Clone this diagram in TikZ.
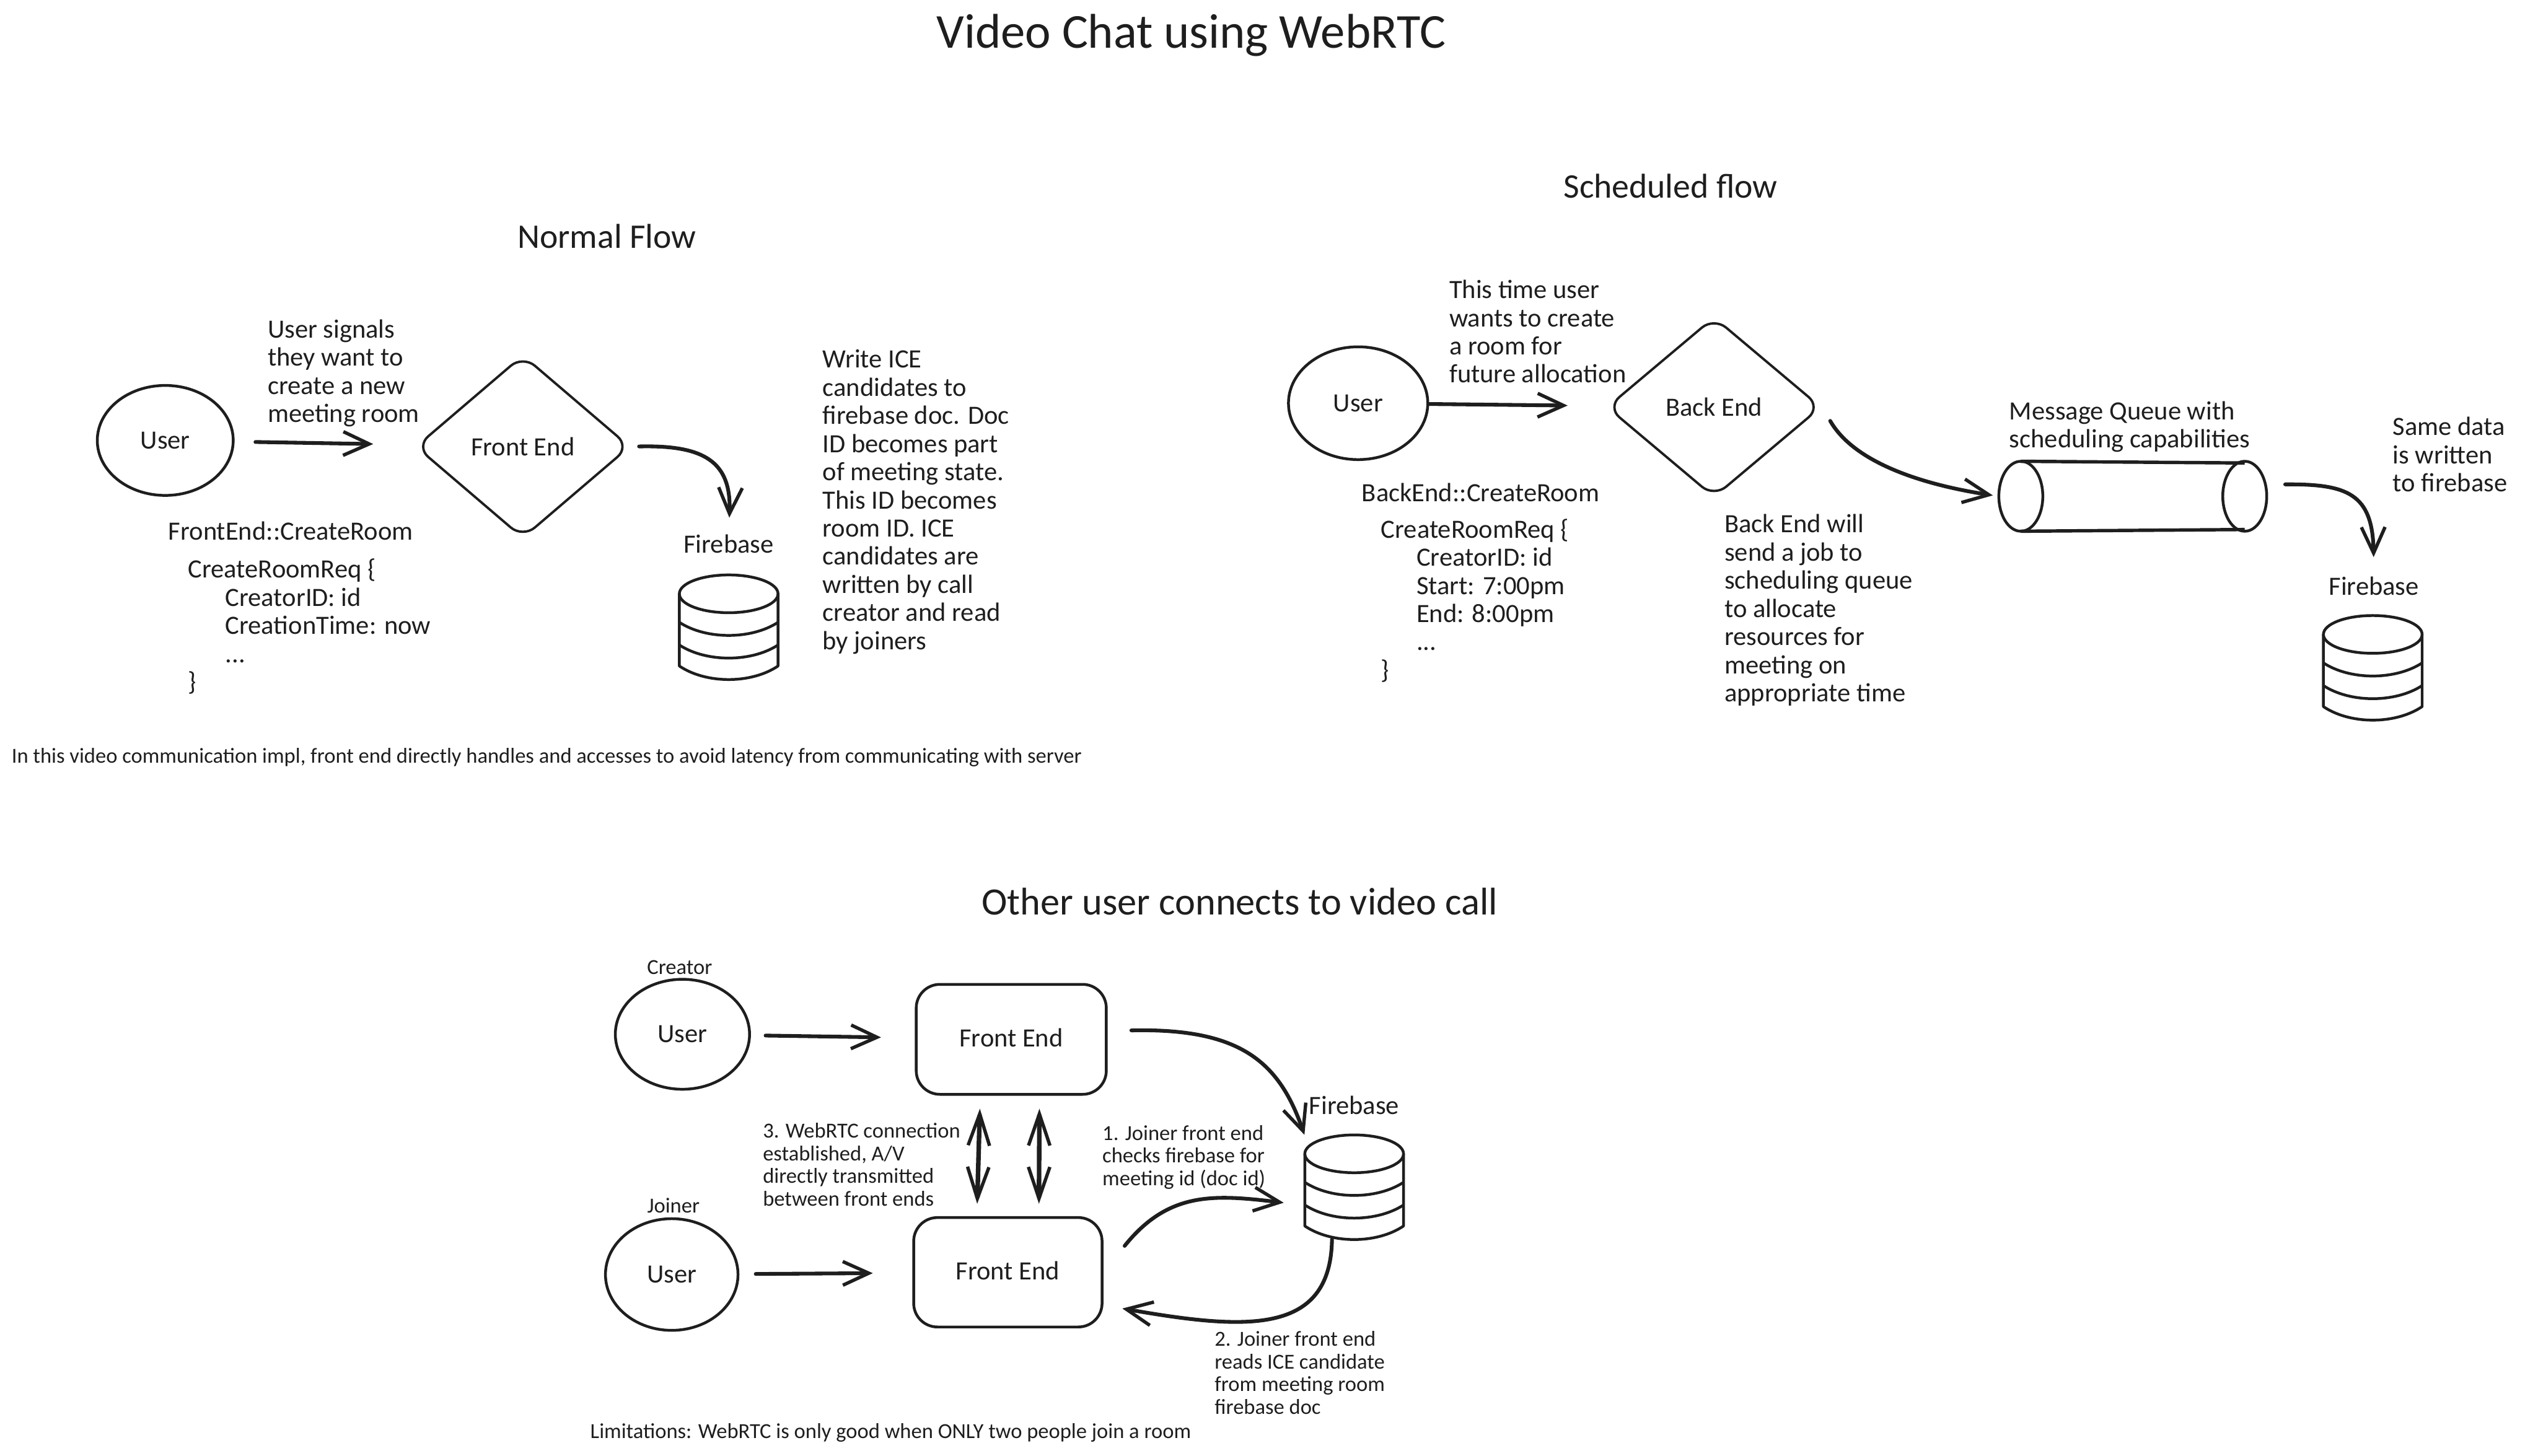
\documentclass[tikz,border=0pt]{standalone}
\usepackage{fontspec}
\setmainfont{Carlito}
\usetikzlibrary{arrows.meta,shapes.geometric,positioning,calc}
\definecolor{inkc}{HTML}{1E1E1E}
\tikzset{
  sketch/.style={draw=inkc, line width=1.4pt, line join=round},
  person/.style={sketch, ellipse, inner sep=0pt},
  decision/.style={sketch, line width=1.2pt, diamond, aspect=1.18, inner sep=0pt, rounded corners=.28cm},
  service/.style={sketch, rectangle, rounded corners=.42cm, inner sep=0pt},
  holder/.style={rectangle, inner sep=0pt},
  flow/.style={draw=inkc, line width=1.9pt, line cap=round, -{Straight Barb[length=4.6mm,width=4.2mm,line width=1.7pt]}},
  bothway/.style={flow, line width=2.3pt, {Straight Barb[length=5.6mm,width=3.8mm,line width=1.7pt]}-{Straight Barb[length=5.6mm,width=3.8mm,line width=1.7pt]}},
  body/.style={text=inkc, font=\fontsize{13.3}{14.2}\selectfont, inner sep=0pt, align=left},
  small/.style={text=inkc, font=\fontsize{10.8}{11.4}\selectfont, inner sep=0pt, align=left},
  heading/.style={text=inkc, font=\fontsize{17.4}{20}\selectfont, inner sep=0pt},
}
\begin{document}
\begin{tikzpicture}
\useasboundingbox (0,0) rectangle (45,25.81);
\fill[white] (0,0) rectangle (45,25.81);
% Headings
\node[text=inkc, font=\fontsize{24.6}{26}\selectfont, inner sep=0pt] (title) at (21.12,25.18) {Video Chat using WebRTC};
\node[heading] (normalhead) at (10.76,21.62) {Normal Flow};
\node[heading] (schedhead) at (29.62,22.51) {Scheduled flow};
\node[heading, font=\fontsize{19.5}{22}\selectfont] (otherhead) at (21.98,9.82) {Other user connects to video call};
% Firebase stacks
\foreach \nm/\cx/\cy in {db1/12.92/15.28,db2/42.07/14.56,db3/24.01/5.35} {
  \node[holder, minimum width=1.75cm, minimum height=1.84cm] (\nm) at (\cx,\cy-.59) {};
  \draw[sketch] (\cx,\cy) ellipse (.875 and .335);
  \draw[sketch] (\cx-.875,\cy) -- (\cx-.875,\cy-1.28) .. controls (\cx-.4,\cy-1.6) and (\cx+.4,\cy-1.6) .. (\cx+.875,\cy-1.28) -- (\cx+.875,\cy);
  \foreach \d in {.505,.907} {
    \draw[sketch] (\cx-.875,\cy-\d) .. controls (\cx-.4,\cy-\d-.31) and (\cx+.4,\cy-\d-.31) .. (\cx+.875,\cy-\d);
  }
}
% Normal flow
\node[person, body, align=center, minimum width=2.41cm, minimum height=1.95cm] (user1) at (2.93,18.00) {User};
\node[decision, body, align=center, minimum width=3.8cm, minimum height=3.25cm] (front1) at (9.27,17.89) {Front End};
\node[body, align=center] (fb1) at (12.92,16.17) {Firebase};
\node[body, anchor=west] (signal1) at (4.74,19.19) {User signals\\they want to\\create a new\\meeting room};
\node[body, anchor=west] (ice1) at (14.58,16.91) {Write ICE\\candidates to\\firebase doc. Doc\\ID becomes part\\of meeting state.\\This ID becomes\\room ID. ICE\\candidates are\\written by call\\creator and read\\by joiners};
\node[body, anchor=west] (api1) at (2.98,16.40) {FrontEnd::CreateRoom};
\node[body, anchor=west] (req1) at (3.33,14.70) {CreateRoomReq \{\\\hspace*{.66cm}CreatorID: id\\\hspace*{.66cm}CreationTime: now\\\hspace*{.66cm}...\\\}};
\node[small, anchor=west] (note1) at (.20,12.38) {In this video communication impl, front end directly handles and accesses to avoid latency from communicating with server};
\draw[flow, shorten <=.37cm, shorten >=.77cm] (user1) -- (front1);
\draw[flow, shorten <=.14cm, shorten >=.29cm] (front1.east) .. controls (12.48,17.92) and (12.97,17.63) .. (fb1.north);
% Scheduled flow
\node[person, body, align=center, minimum width=2.47cm, minimum height=2cm] (user2) at (24.08,18.66) {User};
\node[decision, body, align=center, minimum width=3.8cm, minimum height=3.2cm] (backend) at (30.39,18.59) {Back End};
\node[holder, minimum width=4.74cm, minimum height=1.23cm] (queue) at (37.81,17.01) {};
\draw[sketch] (35.83,17.01) ellipse (.39 and .62);
\draw[sketch] (39.80,17.01) ellipse (.39 and .62);
\draw[sketch, line width=1.7pt] (35.83,17.63) -- (39.80,17.60);
\draw[sketch, line width=1.7pt] (35.83,16.39) -- (39.80,16.42);
\node[body, align=center] (fb2) at (42.09,15.42) {Firebase};
\node[body, anchor=west] (time2) at (25.69,19.93) {This time user\\wants to create\\a room for\\future allocation};
\node[body, anchor=west] (api2) at (24.14,17.08) {BackEnd::CreateRoom};
\node[body, anchor=west] (req2) at (24.48,15.16) {CreateRoomReq \{\\\hspace*{.63cm}CreatorID: id\\\hspace*{.63cm}Start: 7:00pm\\\hspace*{.63cm}End: 8:00pm\\\hspace*{.63cm}...\\\}};
\node[body, anchor=west] (job2) at (30.57,14.99) {Back End will\\send a job to\\scheduling queue\\to allocate\\resources for\\meeting on\\appropriate time};
\node[body, anchor=west] (mq2) at (35.62,18.24) {Message Queue with\\scheduling capabilities};
\node[body, anchor=west] (same2) at (42.42,17.75) {Same data\\is written\\to firebase};
\draw[flow, shorten >=.7cm] (user2) -- (backend);
\draw[flow, shorten <=.28cm, shorten >=.1cm] (backend.east) .. controls (32.86,17.63) and (34.01,17.23) .. (queue.west);
\draw[flow, shorten <=.33cm, shorten >=.34cm] (queue.5) .. controls (41.62,17.23) and (42.07,17.06) .. (fb2.north);
% Other user connects
\node[small, align=center] (creator) at (12.05,8.66) {Creator};
\node[small, align=center] (joiner) at (11.94,4.43) {Joiner};
\node[person, body, align=center, minimum width=2.38cm, minimum height=1.95cm] (user3) at (12.10,7.47) {User};
\node[person, body, align=center, minimum width=2.35cm, minimum height=1.98cm] (user4) at (11.91,3.21) {User};
\node[service, body, align=center, minimum width=3.37cm, minimum height=1.95cm] (creatorfe) at (17.93,7.38) {\raisebox{.07cm}{Front End}};
\node[service, body, align=center, minimum width=3.34cm, minimum height=1.94cm] (joinerfe) at (17.87,3.25) {\raisebox{.07cm}{Front End}};
\node[body, align=center] (fb3) at (24.01,6.21) {Firebase};
\node[small, anchor=west] (webrtc) at (13.52,5.16) {3. WebRTC connection\\established, A/V\\directly transmitted\\between front ends};
\node[small, anchor=west] (step1) at (19.54,5.29) {1. Joiner front end\\checks firebase for\\meeting id (doc id)};
\node[small, anchor=west] (step2) at (21.53,1.47) {2. Joiner front end\\reads ICE candidate\\from meeting room\\firebase doc};
\node[small, anchor=west] (limit) at (10.46,.40) {Limitations: WebRTC is only good when ONLY two people join a room};
\draw[flow, shorten <=.26cm, shorten >=.6cm] (user3) -- (creatorfe);
\draw[flow, shorten <=.29cm, shorten >=.7cm] (user4) -- (joinerfe);
\draw[flow, shorten <=.42cm] ([yshift=.15cm]creatorfe.east) .. controls (21.96,7.58) and (22.67,7.01) .. (db3.north west);
\draw[flow, shorten <=.6cm, shorten >=.37cm] (joinerfe.east) .. controls (20.72,4.69) and (21.53,4.63) .. (db3.200);
\draw[flow, shorten >=.34cm] (db3.-113) .. controls (23.59,2.13) and (22.1,2.22) .. (joinerfe.-19);
\foreach \sh/\bh in {-.55/-.55,.5/.55} {
  \draw[bothway, shorten <=.23cm, shorten >=.22cm] ([xshift=\sh cm]creatorfe.south) -- ([xshift=\bh cm]joinerfe.north);
}
\end{tikzpicture}
\end{document}
